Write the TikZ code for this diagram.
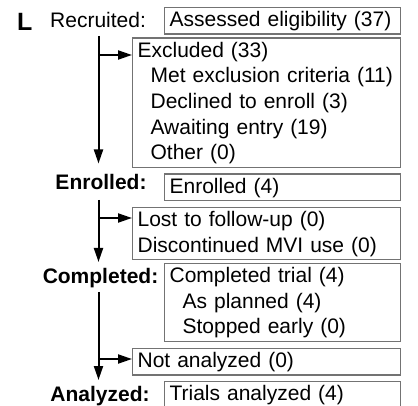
\documentclass[tikz,border=0pt]{standalone}
\usepackage{fontspec}
\setmainfont{Liberation Sans}
\usepackage{tikz}
\usetikzlibrary{arrows.meta}
\definecolor{boxgray}{rgb}{0.45,0.45,0.45}
\setlength{\parindent}{0pt}
\newcommand{\rowstrut}{\rule[-2pt]{0pt}{18pt}}
\newcommand{\sub}{\hspace*{13pt}}

\begin{document}
\begin{tikzpicture}[x=1pt,y=-1pt,
  every node/.style={font=\fontsize{21}{25.7}\selectfont},
  flowbox/.style={draw=boxgray, line width=1.2pt, anchor=north west,
    inner xsep=5pt, inner ysep=3pt, align=left,
    execute at begin node=\rowstrut, execute at end node=\rowstrut},
  stage/.style={anchor=base, inner sep=0pt, font=\fontsize{21}{25.7}\selectfont\bfseries},
  flowarrow/.style={line width=2pt, -{Triangle[length=14pt,width=9pt]}}]
\useasboundingbox (0,0) rectangle (418,406);

\node[anchor=base west, inner sep=0pt, font=\fontsize{25}{30}\selectfont\bfseries] (panel) at (17,31) {L};
\node[anchor=base west, inner sep=0pt] (recr) at (50,28) {Recruited:};
\node[stage] (enr) at (101,190) {Enrolled:};
\node[stage] (comp) at (100.5,284) {Completed:};
\node[stage] (anl) at (100,401) {Analyzed:};

\node[flowbox, text width=226pt] (assess) at (164,7) {Assessed eligibility (37)};
\node[flowbox, text width=258pt] (excl) at (132,37.5) {Excluded (33)\\
\sub Met exclusion criteria (11)\\
\sub Declined to enroll (3)\\
\sub Awaiting entry (19)\\
\sub Other (0)};
\node[flowbox, text width=226pt] (enrol) at (164,173.5) {Enrolled (4)};
\node[flowbox, text width=258pt] (lost) at (132,207) {Lost to follow-up (0)\\
Discontinued MVI use (0)};
\node[flowbox, text width=226pt] (compl) at (164,263) {Completed trial (4)\\
\sub As planned (4)\\
\sub Stopped early (0)};
\node[flowbox, text width=258pt] (notan) at (132,348) {Not analyzed (0)};
\node[flowbox, text width=226pt] (trials) at (164,381) {Trials analyzed (4)};

% main line and side branches
\coordinate (top1) at (98.5,36);
\coordinate (tip1) at (98.5,163.5);
\coordinate (top2) at (98.5,200);
\coordinate (tip2) at (98.5,262);
\coordinate (top3) at (98.5,292);
\coordinate (tip3) at (98.5,380);
\coordinate (b1) at ([yshift=-17.5pt]excl.north west);
\coordinate (b2) at ([yshift=-11pt]lost.north west);
\coordinate (b3) at ([yshift=-11pt]notan.north west);

\draw[flowarrow] (top1) -- (tip1);
\draw[flowarrow] (top2) -- (tip2);
\draw[flowarrow] (top3) -- (tip3);
\foreach \b in {b1,b2,b3}
{
\draw[flowarrow] (top1 |- \b) -- (\b);
}
\end{tikzpicture}
\end{document}
